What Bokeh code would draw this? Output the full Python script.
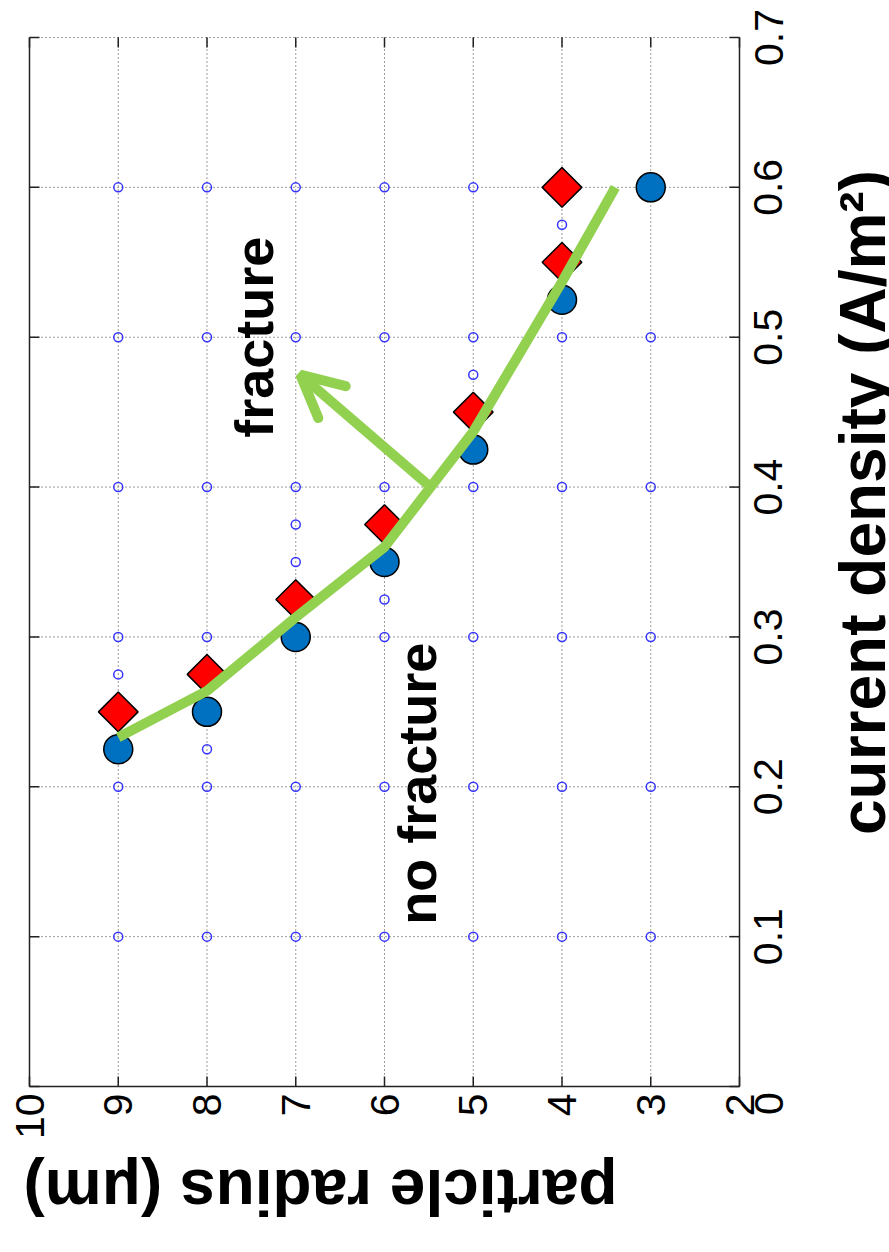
import math
from bokeh.plotting import figure
from bokeh.models import Range1d, FixedTicker, Arrow, OpenHead, LinearAxis
from bokeh.core.properties import value
from bokeh.embed import file_html
from bokeh.resources import INLINE

# ---------------- data ----------------
radius_ticks = [10, 9, 8, 7, 6, 5, 4, 3, 2]
radius_tick_labels = ["10", "9", "8", "7", "6", "5", "4", "3", "2"]
density_ticks = [0, 0.1, 0.2, 0.3, 0.4, 0.5, 0.6, 0.7]
density_tick_labels = ["0", "0.1", "0.2", "0.3", "0.4", "0.5", "0.6", "0.7"]

x_label = "particle radius (\u03bcm)"
y_label = "current density (A/m\u00b2)"

# blue circles
circle_radius = [9, 8, 7, 6, 5, 4, 3]
circle_density = [0.225, 0.25, 0.30, 0.35, 0.425, 0.525, 0.60]

# red diamonds
diamond_radius = [9, 8, 7, 6, 5, 4, 4]
diamond_density = [0.25, 0.275, 0.325, 0.375, 0.45, 0.55, 0.60]

# small open test points
test_radius = [9, 8, 7, 6, 5, 4, 3,
               9, 8, 7, 6, 5, 4, 3,
               9, 8, 7, 6, 5, 4, 3,
               9, 8, 7, 6, 5, 4, 3,
               9, 8, 7, 6, 5, 4, 3,
               9, 8, 7, 6, 5, 4, 3,
               9, 8, 7, 7, 6, 5, 4]
test_density = [0.1, 0.1, 0.1, 0.1, 0.1, 0.1, 0.1,
                0.2, 0.2, 0.2, 0.2, 0.2, 0.2, 0.2,
                0.3, 0.3, 0.3, 0.3, 0.3, 0.3, 0.3,
                0.4, 0.4, 0.4, 0.4, 0.4, 0.4, 0.4,
                0.5, 0.5, 0.5, 0.5, 0.5, 0.5, 0.5,
                0.6, 0.6, 0.6, 0.6, 0.6, 0.6, 0.6,
                0.275, 0.225, 0.35, 0.375, 0.325, 0.475, 0.575]

# green boundary curve
boundary_radius = [9, 8, 7, 6, 5, 4, 3.4]
boundary_density = [0.233, 0.264, 0.313, 0.36, 0.437, 0.537, 0.60]

# arrow (radius, density)
arrow_start = [5.52, 0.402]
arrow_end = [6.95, 0.475]

# region labels
region_text = ["fracture", "no fracture"]
region_radius = [7.47, 5.63]
region_density = [0.50, 0.202]

GREEN = "#92D050"
FONT = "Liberation Sans"
AXIS_COLOR = "#222222"
GRID_COLOR = "#3a3a3a"

# ---------------- geometry (pixels) ----------------
PAGE_W, PAGE_H = 889, 1252
LEFT, TOP = 29, 37            # page position of the plot box
BOX_W, BOX_H = 710, 1049      # size of the plot box

r_lo, r_hi = radius_ticks[0], radius_ticks[-1]     # 10 (left) .. 2 (right)
d_lo, d_hi = density_ticks[0], density_ticks[-1]   # 0 .. 0.7
px_x = BOX_W / (r_lo - r_hi)
px_y = BOX_H / (d_hi - d_lo)

def rx(page_x):   # page pixel -> radius
    return r_lo - (page_x - LEFT) / px_x

def dy(page_y):   # page pixel -> density
    return d_hi - (page_y - TOP) / px_y

# the drawing area covers the whole page so that rotated labels are not clipped
x_range = Range1d(rx(0), rx(PAGE_W))
y_range = Range1d(dy(PAGE_H), dy(0))

# tick labels of a rotated right axis start at their tick; shift by half a label
half_label = 28.5 / px_y

p = figure(frame_width=PAGE_W, frame_height=PAGE_H,
           x_range=x_range, y_range=y_range,
           x_axis_location="below", y_axis_location=None,
           output_backend="svg", toolbar_location=None,
           min_border_left=0, min_border_top=0,
           min_border_right=0, min_border_bottom=0,
           background_fill_color="white", border_fill_color="white")
p.outline_line_color = None
p.xgrid.visible = False
p.ygrid.visible = False
p.extra_y_ranges = {"ylab": Range1d(y_range.start + half_label,
                                    y_range.end + half_label)}

# dotted grid inside the box (the top edge is a dotted grid line too)
p.segment(x0=radius_ticks, y0=[d_lo] * len(radius_ticks),
          x1=radius_ticks, y1=[d_hi] * len(radius_ticks),
          line_color=GRID_COLOR, line_dash="1 3", line_width=1)
p.segment(x0=[r_lo] * len(density_ticks), y0=density_ticks,
          x1=[r_hi] * len(density_ticks), y1=density_ticks,
          line_color=GRID_COLOR, line_dash="1 3", line_width=1)

# solid left, right and bottom edges of the box
p.segment(x0=[r_lo, r_hi, r_lo], y0=[d_lo, d_lo, d_lo],
          x1=[r_lo, r_hi, r_hi], y1=[d_hi, d_hi, d_lo],
          line_color=AXIS_COLOR, line_width=1.5)

# inward ticks on all four sides
tdx = 10 / px_x
tdy = 10 / px_y
n_d, n_r = len(density_ticks), len(radius_ticks)
p.segment(x0=[r_lo] * n_d, y0=density_ticks, x1=[r_lo - tdx] * n_d,
          y1=density_ticks, line_color=AXIS_COLOR, line_width=1.5)
p.segment(x0=[r_hi] * n_d, y0=density_ticks, x1=[r_hi + tdx] * n_d,
          y1=density_ticks, line_color=AXIS_COLOR, line_width=1.5)
p.segment(x0=radius_ticks, y0=[d_hi] * n_r, x1=radius_ticks,
          y1=[d_hi - tdy] * n_r, line_color=AXIS_COLOR, line_width=1.5)
p.segment(x0=radius_ticks, y0=[d_lo] * n_r, x1=radius_ticks,
          y1=[d_lo + tdy] * n_r, line_color=AXIS_COLOR, line_width=1.5)

def style_axis(ax, ticks, labels):
    ax.ticker = FixedTicker(ticks=ticks)
    ax.major_label_overrides = {t: l for t, l in zip(ticks, labels)}
    ax.axis_line_color = None
    ax.major_tick_line_color = None
    ax.minor_tick_line_color = None
    ax.major_tick_in = 0
    ax.major_tick_out = 0
    ax.minor_tick_in = 0
    ax.minor_tick_out = 0
    ax.major_label_text_font = FONT
    ax.major_label_text_font_size = "41px"
    ax.major_label_text_color = "black"
    ax.major_label_orientation = math.pi / 2

# bottom axis: radius labels, drawn on the lower edge of the box
xax = p.xaxis[0]
style_axis(xax, radius_ticks, radius_tick_labels)
xax.fixed_location = d_lo
xax.major_label_standoff = 7

# right axis: density labels, drawn on the right edge of the box
yax = LinearAxis(y_range_name="ylab")
style_axis(yax, density_ticks, density_tick_labels)
yax.fixed_location = r_hi
yax.major_label_standoff = 29
p.add_layout(yax, "right")

# markers
p.scatter(test_radius, test_density, marker="circle", size=9,
          fill_color=None, line_color="#3535ff", line_width=1.5)
p.scatter(circle_radius, circle_density, marker="circle", size=29,
          fill_color="#0070C0", line_color="black", line_width=1.5)
p.scatter(diamond_radius, diamond_density, marker="square", size=28,
          angle=math.pi / 4, fill_color="#FF0000", line_color="black",
          line_width=1.5)

# boundary curve
p.line(boundary_radius, boundary_density, line_color=GREEN, line_width=10)

# arrow
p.add_layout(Arrow(x_start=arrow_start[0], y_start=arrow_start[1],
                   x_end=arrow_end[0], y_end=arrow_end[1],
                   line_color=GREEN, line_width=10,
                   end=OpenHead(size=42, line_color=GREEN, line_width=10,
                                line_cap="round")))

# region labels
p.text(region_radius, region_density, text=region_text, angle=math.pi / 2,
       text_font=value(FONT), text_font_style="bold",
       text_font_size=value("54px"), text_align="center",
       text_baseline="middle", text_color="black")

# axis titles (rotated like the rest of the chart)
p.text(x=[rx(320)], y=[dy(1191)], text=[x_label], angle=math.pi,
       text_font=value(FONT), text_font_style="bold",
       text_font_size=value("64px"), text_align="center",
       text_baseline="alphabetic", text_color="black")
p.text(x=[rx(862)], y=[dy(502)], text=[y_label], angle=math.pi / 2,
       text_font=value(FONT), text_font_style="bold",
       text_font_size=value("64px"), text_align="center",
       text_baseline="alphabetic", text_color="black")

open("out.html", "w").write(file_html(p, INLINE))
